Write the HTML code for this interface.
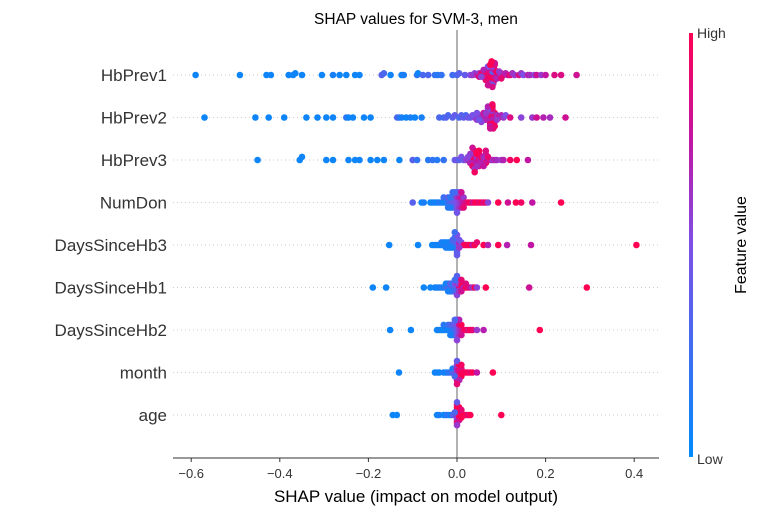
<!DOCTYPE html>
<html><head><meta charset="utf-8"><style>
html,body{margin:0;padding:0;background:#fff}
svg{display:block;font-family:"Liberation Sans","DejaVu Sans",sans-serif}
</style></head><body>
<svg id="chart" width="761" height="516" viewBox="0 0 761 516" xmlns="http://www.w3.org/2000/svg">
<defs><linearGradient id="cbar" x1="0" y1="1" x2="0" y2="0">
<stop offset="0" stop-color="#008bfb"/><stop offset="0.5" stop-color="#7d4fe6"/><stop offset="0.75" stop-color="#c215a3"/><stop offset="1" stop-color="#ff0052"/>
</linearGradient></defs>
<text x="416" y="24" text-anchor="middle" font-size="15.5" fill="#000">SHAP values for SVM-3, men</text>
<g id="grid"></g>
<line x1="457" y1="30" x2="457" y2="458" stroke="#999" stroke-width="1.5"/>
<g id="points"></g>
<g id="labels"></g>
<line x1="173" y1="458" x2="659" y2="458" stroke="#333" stroke-width="1"/>
<g id="xticks"></g>
<text x="416" y="502" text-anchor="middle" font-size="17" fill="#000">SHAP value (impact on model output)</text>
<rect x="689" y="33" width="4" height="424" fill="url(#cbar)"/>
<text x="697" y="38" font-size="14" fill="#333">High</text>
<text x="697" y="464" font-size="14" fill="#333">Low</text>
<text transform="translate(746,245) rotate(-90)" text-anchor="middle" font-size="16" fill="#000">Feature value</text>
</svg>
<script>
const features = ["HbPrev1","HbPrev2","HbPrev3","NumDon","DaysSinceHb3","DaysSinceHb1","DaysSinceHb2","month","age"];
const xTicks = [-0.6,-0.4,-0.2,0.0,0.2,0.4];
const xTickLabels = ["\u22120.6","\u22120.4","\u22120.2","0.0","0.2","0.4"];
const shapHbPrev1 = [-0.59,-0.49,-0.43,-0.42,-0.38,-0.37,-0.365,-0.35,-0.305,-0.28,-0.265,-0.25,-0.23,-0.22,-0.17,-0.165,-0.15,-0.125,-0.12,-0.09,-0.088,-0.077,-0.065,-0.05,-0.043,-0.035,-0.01,0.0,0.005,0.018,0.03,0.035,0.04,0.045,0.05,0.05,0.055,0.055,0.06,0.06,0.065,0.065,0.07,0.07,0.07,0.075,0.075,0.075,0.08,0.08,0.08,0.08,0.085,0.085,0.085,0.09,0.09,0.095,0.1,0.1,0.105,0.11,0.115,0.12,0.125,0.13,0.14,0.145,0.15,0.16,0.165,0.175,0.18,0.19,0.2,0.22,0.235,0.27,
 0.065,0.07,0.072,0.075,0.078,0.08,0.08,0.082,0.085,0.088,0.07,0.075,0.08,0.085,0.09,0.06,0.065,0.075,0.08,0.09,0.095,0.1,0.055,0.07,0.078];
const featHbPrev1 = [0.05,0.05,0.05,0.05,0.05,0.05,0.05,0.05,0.05,0.1,0.05,0.05,0.05,0.05,0.35,0.3,0.05,0.05,0.1,0.2,0.05,0.3,0.3,0.2,0.15,0.2,0.25,0.3,0.35,0.4,0.5,0.6,0.55,0.7,0.6,0.85,0.7,0.9,0.65,1,0.8,0.95,0.75,1,0.9,0.8,1,0.95,0.7,1,0.9,0.35,1,0.8,0.6,0.95,0.7,0.85,0.9,0.6,0.8,0.7,0.75,0.9,0.65,0.6,0.85,0.6,0.5,0.7,0.65,0.55,0.8,0.6,0.75,0.85,0.85,0.8,
 0.9,1,0.8,0.95,0.7,1,0.6,0.85,0.9,0.75,0.5,0.65,0.4,0.8,1,0.7,0.9,1,0.85,0.7,0.6,0.9,0.55,0.8,1];
const shapHbPrev2 = [-0.57,-0.455,-0.425,-0.39,-0.34,-0.315,-0.295,-0.28,-0.25,-0.245,-0.235,-0.21,-0.195,-0.135,-0.13,-0.125,-0.115,-0.105,-0.095,-0.08,-0.04,-0.03,-0.025,-0.02,-0.01,-0.005,0.005,0.01,0.015,0.02,0.025,0.03,0.035,0.04,0.04,0.045,0.05,0.05,0.055,0.06,0.06,0.065,0.065,0.07,0.07,0.075,0.075,0.075,0.08,0.08,0.08,0.085,0.085,0.09,0.09,0.095,0.1,0.105,0.11,0.12,0.145,0.17,0.18,0.195,0.21,0.245,
 0.06,0.065,0.07,0.075,0.078,0.08,0.08,0.085,0.07,0.075,0.08,0.082,0.065,0.07,0.075,0.08,0.09,0.055,0.05,0.045];
const featHbPrev2 = [0.05,0.05,0.05,0.05,0.05,0.05,0.05,0.05,0.2,0.05,0.05,0.05,0.05,0.3,0.2,0.1,0.05,0.1,0.05,0.1,0.3,0.25,0.35,0.3,0.35,0.4,0.3,0.35,0.4,0.3,0.45,0.4,0.5,0.55,0.45,0.6,0.65,0.5,0.7,0.6,0.8,0.75,0.55,0.9,0.7,1,0.8,0.6,1,0.9,0.7,0.95,0.75,0.85,0.65,0.9,0.7,0.6,0.5,0.85,0.55,0.6,0.8,0.7,0.65,0.8,
 0.8,0.7,1,0.9,0.6,1,0.85,0.95,0.5,0.75,1,0.9,0.6,0.7,0.8,0.95,0.6,0.55,0.45,0.5];
const shapHbPrev3 = [-0.45,-0.355,-0.35,-0.295,-0.28,-0.245,-0.23,-0.22,-0.195,-0.18,-0.165,-0.13,-0.1,-0.09,-0.065,-0.055,-0.045,-0.03,-0.005,0,0.005,0.01,0.015,0.02,0.025,0.03,0.03,0.035,0.035,0.04,0.04,0.045,0.045,0.05,0.05,0.05,0.055,0.055,0.06,0.06,0.065,0.065,0.07,0.075,0.08,0.085,0.09,0.1,0.105,0.12,0.135,0.16,
 0.03,0.035,0.04,0.045,0.05,0.04,0.045,0.05,0.055,0.035,0.04,0.045,0.05,0.06,0.065,0.07,0.03,0.025];
const featHbPrev3 = [0.05,0.05,0.05,0.05,0.05,0.05,0.05,0.05,0.05,0.05,0.05,0.05,0.35,0.2,0.15,0.2,0.15,0.2,0.4,0.45,0.35,0.5,0.4,0.55,0.6,0.5,0.75,0.7,0.9,0.65,0.85,0.8,0.6,1,0.75,0.9,0.7,1,0.8,0.65,0.95,0.7,0.75,0.85,0.6,0.7,0.65,0.6,0.7,0.95,1,0.75,
 0.7,0.9,1,0.75,0.8,0.6,1,0.9,0.7,0.8,0.95,0.65,1,0.75,0.85,0.9,0.6,0.55];
const shapNumDon = [-0.1,-0.08,-0.075,-0.06,-0.055,-0.05,-0.045,-0.04,-0.035,-0.03,-0.03,-0.025,-0.02,-0.02,-0.015,-0.015,-0.01,-0.01,-0.005,-0.005,0,0,0.005,0.005,0.01,0.01,0.015,0.015,0.02,0.025,0.03,0.035,0.04,0.045,0.05,0.055,0.06,0.065,0.07,0.093,0.115,0.133,0.145,0.17,0.235,
 -0.01,-0.005,0,0,0.005,0.01,-0.015,-0.02,0.0,0.005,-0.005,0.01,0.015,-0.01];
const featNumDon = [0.35,0.05,0.1,0.05,0.05,0.1,0.05,0.15,0.1,0.05,0.25,0.1,0.2,0.35,0.3,0.15,0.4,0.2,0.45,0.3,0.5,0.6,0.55,0.7,0.65,0.8,0.75,0.6,0.85,0.9,1,0.8,0.95,1,0.9,1,0.85,0.95,0.55,1,0.8,1,0.95,0.75,1,
 0.2,0.4,0.5,0.35,0.6,0.7,0.1,0.15,0.45,0.55,0.3,0.8,0.9,0.25];
const shapDaysSinceHb3 = [-0.153,-0.088,-0.056,-0.05,-0.045,-0.04,-0.035,-0.035,-0.03,-0.03,-0.025,-0.025,-0.02,-0.02,-0.015,-0.015,-0.01,-0.01,-0.005,-0.005,0,0,0,0.005,0.005,0.01,0.01,0.015,0.02,0.025,0.03,0.035,0.04,0.045,0.06,0.07,0.093,0.113,0.167,0.405,
 -0.01,-0.005,0,0,0.005,-0.015,-0.02,-0.01,0,0.005,-0.005,-0.025];
const featDaysSinceHb3 = [0.05,0.05,0.05,0.05,0.1,0.05,0.05,0.15,0.1,0.05,0.2,0.1,0.15,0.05,0.25,0.1,0.3,0.15,0.2,0.35,0.4,0.3,0.55,0.45,0.7,0.8,0.5,0.9,1,0.95,1,0.75,1,0.9,1,0.7,1,0.7,0.75,1,
 0.1,0.2,0.35,0.5,0.6,0.1,0.05,0.3,0.4,0.45,0.25,0.1];
const shapDaysSinceHb1 = [-0.19,-0.16,-0.075,-0.06,-0.05,-0.045,-0.04,-0.035,-0.03,-0.025,-0.025,-0.02,-0.02,-0.015,-0.015,-0.01,-0.01,-0.005,-0.005,0,0,0,0.005,0.005,0.01,0.01,0.015,0.02,0.02,0.025,0.03,0.035,0.04,0.045,0.065,0.163,0.293,
 -0.01,-0.005,0,0,0.005,0.01,-0.015,0,0.005,-0.005,-0.02,0.01];
const featDaysSinceHb1 = [0.05,0.05,0.05,0.05,0.05,0.1,0.05,0.15,0.1,0.2,0.05,0.3,0.1,0.2,0.4,0.35,0.15,0.3,0.5,0.4,0.6,0.3,0.8,0.5,0.9,1,0.7,1,0.85,0.9,0.8,0.6,1,0.55,1,0.8,1,
 0.1,0.3,0.4,0.55,0.6,0.8,0.2,0.35,0.5,0.25,0.1,0.9];
const shapDaysSinceHb2 = [-0.151,-0.104,-0.045,-0.04,-0.035,-0.03,-0.03,-0.025,-0.02,-0.02,-0.015,-0.015,-0.01,-0.01,-0.005,-0.005,0,0,0.005,0.005,0.01,0.01,0.015,0.02,0.025,0.03,0.035,0.045,0.06,0.187,
 -0.01,-0.005,0,0,0.005,0.005,-0.015,0,0.01,-0.005];
const featDaysSinceHb2 = [0.05,0.05,0.05,0.1,0.05,0.05,0.15,0.1,0.05,0.2,0.1,0.3,0.15,0.35,0.25,0.4,0.4,0.5,0.6,0.8,0.7,1,0.9,1,0.85,1,0.9,0.6,0.7,1,
 0.1,0.2,0.45,0.4,0.6,0.7,0.1,0.55,0.8,0.3];
const shapMonth = [-0.131,-0.05,-0.045,-0.04,-0.03,-0.025,-0.02,-0.015,-0.01,-0.01,-0.005,-0.005,0,0,0,0.005,0.005,0.01,0.01,0.015,0.02,0.025,0.03,0.035,0.045,0.081,
 0,0,0.005,0.005,0,-0.005,0.01,0.005,0,0.01];
const featMonth = [0.05,0.05,0.1,0.05,0.1,0.05,0.15,0.2,0.3,0.1,0.4,0.2,0.6,0.7,0.5,0.8,0.9,1,0.85,1,0.95,1,0.9,1,0.75,1,
 0.6,0.8,0.9,1,0.4,0.3,1,0.7,0.9,0.95];
const shapAge = [-0.145,-0.136,-0.045,-0.04,-0.03,-0.025,-0.02,-0.015,-0.01,-0.005,0,0,0,0,0,0.005,0.005,0.005,0.01,0.01,0.015,0.02,0.025,0.03,0.1,
 0,0,0.005,0.005,0,0,0.01,0.005,0,0.01,-0.005];
const featAge = [0.05,0.05,0.05,0.1,0.05,0.1,0.2,0.05,0.3,0.4,1,0.95,0.6,1,0.55,1,0.9,1,1,0.95,1,1,0.9,1,1,
 1,0.9,1,0.8,0.95,0.6,1,1,0.4,0.9,0.3];

const shapSeries = [shapHbPrev1,shapHbPrev2,shapHbPrev3,shapNumDon,shapDaysSinceHb3,shapDaysSinceHb1,shapDaysSinceHb2,shapMonth,shapAge];
const featSeries = [featHbPrev1,featHbPrev2,featHbPrev3,featNumDon,featDaysSinceHb3,featDaysSinceHb1,featDaysSinceHb2,featMonth,featAge];

const NS = "http://www.w3.org/2000/svg";
const X0 = 457, XS = 443;
function xScale(v){ return X0 + v*XS; }
function yScale(i){ return 75 + i*42.5; }
function mix(a,b,t){ return Math.round(a+(b-a)*t); }
const stops = [[0,[0,139,251]],[0.5,[125,79,230]],[0.75,[194,21,163]],[1,[255,0,82]]];
function color(t){
  t = Math.max(0,Math.min(1,t));
  for (let k=0;k<stops.length-1;k++){
    const [a,ca]=stops[k],[b,cb]=stops[k+1];
    if (t<=b){ const u=(t-a)/(b-a); return `rgb(${mix(ca[0],cb[0],u)},${mix(ca[1],cb[1],u)},${mix(ca[2],cb[2],u)})`; }
  }
  return "rgb(255,0,82)";
}
const grid = document.getElementById('grid');
const pts = document.getElementById('points');
const labels = document.getElementById('labels');
const xt = document.getElementById('xticks');

features.forEach((name,i)=>{
  const y = yScale(i);
  const gl = document.createElementNS(NS,'line');
  
  
  gl.setAttribute('x1',173); gl.setAttribute('x2',659); gl.setAttribute('y1',y); gl.setAttribute('y2',y);
  gl.setAttribute('stroke','#ccc'); gl.setAttribute('stroke-dasharray','1,3'); gl.setAttribute('stroke-width','1');
  grid.appendChild(gl);
  const t = document.createElementNS(NS,'text');
  
  
  t.setAttribute('x',167); t.setAttribute('y',y+6); t.setAttribute('text-anchor','end');
  t.setAttribute('font-size','17'); t.setAttribute('fill','#333');
  t.textContent = name; labels.appendChild(t);

  const s = shapSeries[i], f = featSeries[i];
  const N = s.length;
  const mn = Math.min(...s), mx = Math.max(...s);
  const quant = s.map(v=>Math.round(100*(v-mn)/(mx-mn+1e-8)));
  const inds = s.map((_,k)=>k).sort((a,b)=>quant[a]-quant[b] || a-b);
  const ys = new Array(N).fill(0);
  let layer=0,last=-1;
  inds.forEach(k=>{
    if (quant[k]!==last) layer=0;
    ys[k] = Math.ceil(layer/2)*((layer%2)*2-1);
    layer++; last=quant[k];
  });
  const m = Math.max(...ys.map(v=>v+1));
  const sc = 0.9*0.4*42.5/m;
  for (let k=0;k<N;k++){
    const c = document.createElementNS(NS,'circle');
    
    
    c.setAttribute('cx', xScale(s[k]).toFixed(1));
    c.setAttribute('cy', (y - ys[k]*sc).toFixed(1));
    c.setAttribute('r', '3.3');
    c.setAttribute('fill', color(f[k]!==undefined?f[k]:0.5));
    pts.appendChild(c);
  }
});
xTicks.forEach((v,j)=>{
  const x = xScale(v);
  const l = document.createElementNS(NS,'line');
  
  
  l.setAttribute('x1',x); l.setAttribute('x2',x); l.setAttribute('y1',458); l.setAttribute('y2',462);
  l.setAttribute('stroke','#333');
  xt.appendChild(l);
  const t = document.createElementNS(NS,'text');
  
  
  t.setAttribute('x',x); t.setAttribute('y',478); t.setAttribute('text-anchor','middle');
  t.setAttribute('font-size','13'); t.setAttribute('fill','#333');
  t.textContent = xTickLabels[j]; xt.appendChild(t);
});
</script>
</body></html>
